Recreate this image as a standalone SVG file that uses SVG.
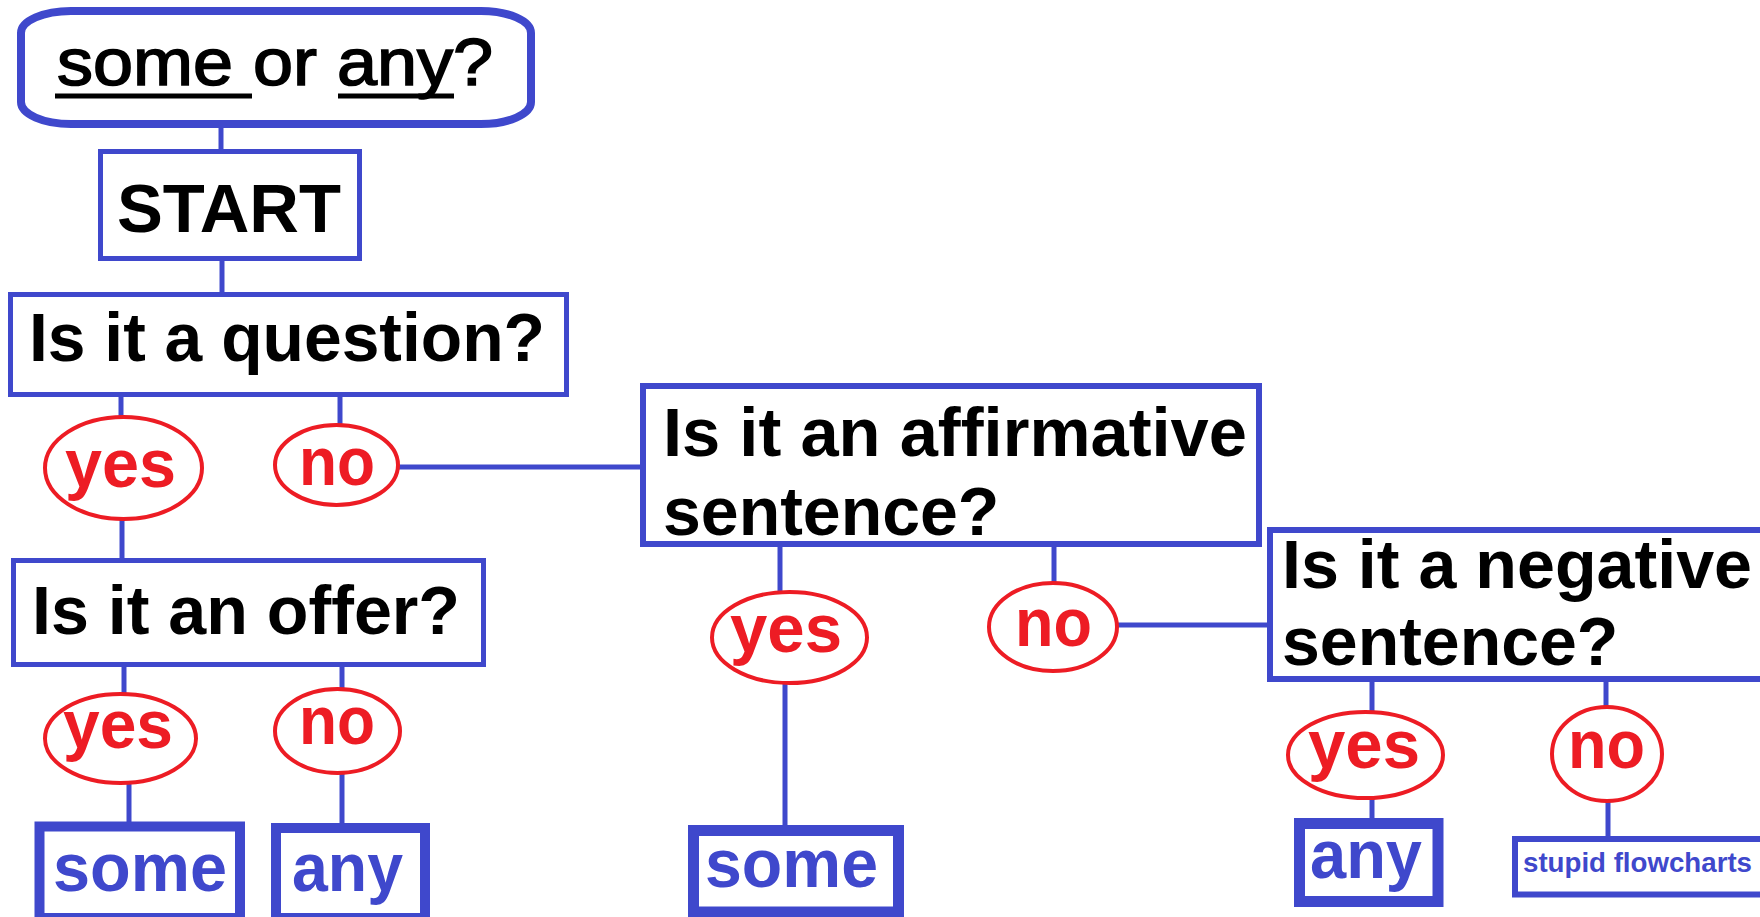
<svg xmlns="http://www.w3.org/2000/svg" width="1760" height="917" viewBox="0 0 1760 917">
<style>
.box{fill:#fff;stroke:#3f48cc;stroke-width:5}
.b6{stroke-width:6}
.b10{stroke-width:10}
.b11{stroke-width:11}
.oval{fill:#fff;stroke:#ed1c24;stroke-width:4}
.con line{stroke:#3f48cc;stroke-width:5}
.q{font-family:"Liberation Sans",Arial,sans-serif;font-weight:bold;font-size:68px;fill:#000}
.lbl{font-family:"Liberation Sans",Arial,sans-serif;font-weight:bold;font-size:68px;fill:#ed1c24;text-anchor:middle}
.ans{font-family:"Liberation Sans",Arial,sans-serif;font-weight:bold;font-size:68px;fill:#3f48cc;text-anchor:middle}
</style>
<rect width="1760" height="917" fill="#fff"/>
<g id="connectors" class="con">
<line x1="221" y1="124" x2="221" y2="152"/>
<line x1="222" y1="258" x2="222" y2="295"/>
<line x1="121" y1="395" x2="121" y2="417"/>
<line x1="340" y1="395" x2="340" y2="426"/>
<line x1="398" y1="467" x2="643" y2="467"/>
<line x1="122" y1="519" x2="122" y2="561"/>
<line x1="124" y1="665" x2="124" y2="694"/>
<line x1="342" y1="665" x2="342" y2="689"/>
<line x1="129" y1="783" x2="129" y2="822"/>
<line x1="342" y1="773" x2="342" y2="823"/>
<line x1="780" y1="544" x2="780" y2="592"/>
<line x1="1054" y1="544" x2="1054" y2="583"/>
<line x1="1117" y1="625" x2="1270" y2="625"/>
<line x1="785" y1="683" x2="785" y2="826"/>
<line x1="1372" y1="679" x2="1372" y2="712"/>
<line x1="1606" y1="679" x2="1606" y2="707"/>
<line x1="1372" y1="798" x2="1372" y2="819"/>
<line x1="1608" y1="801" x2="1608" y2="839"/>
</g>
<g id="title">
<rect x="21" y="11" width="510" height="113" rx="50" ry="22" fill="#fff" stroke="#3f48cc" stroke-width="8"/>
<text x="57" y="85" font-family="'Liberation Sans',Arial,sans-serif" font-size="67" fill="#000" stroke="#000" stroke-width="1.6" textLength="436" lengthAdjust="spacingAndGlyphs">some or any?</text>
<line x1="55" y1="96" x2="252" y2="96" stroke="#000" stroke-width="5"/>
<line x1="338" y1="96" x2="454" y2="96" stroke="#000" stroke-width="5"/>
</g>
<g id="start">
<rect class="box" x="100.5" y="151.5" width="259" height="107"/>
<text class="q" x="117" y="232" textLength="224" lengthAdjust="spacingAndGlyphs">START</text>
</g>
<g id="q-question">
<rect class="box" x="10.5" y="294.5" width="556" height="100"/>
<text class="q" x="29" y="361" textLength="516" lengthAdjust="spacingAndGlyphs">Is it a question?</text>
</g>
<g id="q1-yes"><ellipse class="oval" cx="123.5" cy="468" rx="78.5" ry="51"/><text class="lbl" x="120.5" y="487" textLength="111" lengthAdjust="spacingAndGlyphs">yes</text></g>
<g id="q1-no"><ellipse class="oval" cx="336.5" cy="465" rx="61.5" ry="40"/><text class="lbl" x="337" y="485" textLength="76" lengthAdjust="spacingAndGlyphs">no</text></g>
<g id="q-offer">
<rect class="box" x="13.5" y="560.5" width="470" height="104"/>
<text class="q" x="32" y="634" textLength="428" lengthAdjust="spacingAndGlyphs">Is it an offer?</text>
</g>
<g id="q2-yes"><ellipse class="oval" cx="120.5" cy="738.5" rx="75.5" ry="44.5"/><text class="lbl" x="118" y="748" textLength="110" lengthAdjust="spacingAndGlyphs">yes</text></g>
<g id="q2-no"><ellipse class="oval" cx="337.5" cy="731" rx="62.5" ry="42"/><text class="lbl" x="337" y="744" textLength="76" lengthAdjust="spacingAndGlyphs">no</text></g>
<g id="a-some1"><rect class="box b10" x="39.5" y="826.5" width="200.5" height="91.5"/><text class="ans" x="140" y="891" textLength="174" lengthAdjust="spacingAndGlyphs">some</text></g>
<g id="a-any1"><rect class="box b10" x="276" y="828" width="149" height="90"/><text class="ans" x="347.5" y="891" textLength="111" lengthAdjust="spacingAndGlyphs">any</text></g>
<g id="q-affirmative">
<rect class="box b6" x="643" y="386" width="616" height="158"/>
<text class="q" x="663" y="456" textLength="584" lengthAdjust="spacingAndGlyphs">Is it an affirmative</text>
<text class="q" x="663" y="535">sentence?</text>
</g>
<g id="q3-yes"><ellipse class="oval" cx="789.5" cy="637.5" rx="77.5" ry="45.5"/><text class="lbl" x="786" y="652" textLength="112" lengthAdjust="spacingAndGlyphs">yes</text></g>
<g id="q3-no"><ellipse class="oval" cx="1053" cy="627" rx="64" ry="44"/><text class="lbl" x="1053.5" y="646" textLength="77" lengthAdjust="spacingAndGlyphs">no</text></g>
<g id="a-some2"><rect class="box b11" x="693.5" y="830.5" width="205" height="81.5"/><text class="ans" x="791.5" y="887" textLength="173" lengthAdjust="spacingAndGlyphs">some</text></g>
<g id="q-negative">
<rect class="box b6" x="1270" y="530" width="510" height="149"/>
<text class="q" x="1282" y="588" textLength="470" lengthAdjust="spacingAndGlyphs">Is it a negative</text>
<text class="q" x="1282" y="665">sentence?</text>
</g>
<g id="q4-yes"><ellipse class="oval" cx="1365.5" cy="755" rx="77.5" ry="43"/><text class="lbl" x="1364" y="768" textLength="112" lengthAdjust="spacingAndGlyphs">yes</text></g>
<g id="q4-no"><ellipse class="oval" cx="1607" cy="754" rx="55" ry="47"/><text class="lbl" x="1606.5" y="768" textLength="77" lengthAdjust="spacingAndGlyphs">no</text></g>
<g id="a-any2"><rect class="box b11" x="1299.5" y="823.5" width="138.5" height="78"/><text class="ans" x="1366" y="878" textLength="112" lengthAdjust="spacingAndGlyphs">any</text></g>
<g id="a-stupid"><rect class="box b6" x="1515" y="839" width="265" height="55.5"/><text x="1523" y="872" font-family="'Liberation Sans',Arial,sans-serif" font-weight="bold" font-size="28" fill="#3f48cc" textLength="229" lengthAdjust="spacingAndGlyphs">stupid flowcharts</text></g>
</svg>
